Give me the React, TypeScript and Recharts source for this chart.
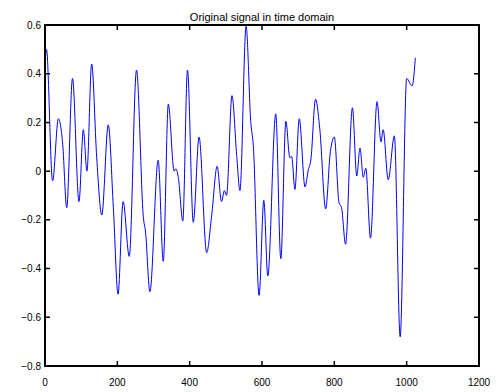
import { LineChart, Line, XAxis, YAxis } from "recharts";

// sample index (time) and amplitude
const sampleIdx = [
  0, 4, 21, 37, 49, 60, 76, 94, 106, 116, 129, 143, 157, 175, 189, 202, 216,
  233, 253, 272, 278, 290, 313, 327, 341, 357, 362, 369, 381, 394, 410, 426,
  447, 461, 476, 488, 496, 502, 517, 530, 539, 556, 569, 576, 592, 605, 616,
  638, 652, 666, 677, 682, 691, 703, 719, 728, 735, 748, 760, 776, 789, 800,
  813, 820, 831, 850, 862, 871, 880, 887, 900, 918, 929, 935, 949, 966, 982,
  1000, 1015, 1024,
];
const amplitude = [
  0.44, 0.5, -0.04, 0.215, 0.11, -0.15, 0.38, -0.125, 0.17, 0.0, 0.44, 0.055,
  -0.18, 0.19, -0.15, -0.505, -0.125, -0.35, 0.415, -0.19, -0.25, -0.495,
  0.045, -0.37, 0.275, 0.0, 0.01, -0.03, -0.205, 0.415, -0.21, 0.14, -0.335,
  -0.18, 0.02, -0.125, -0.08, -0.1, 0.31, 0.065, -0.08, 0.595, 0.2, 0.105,
  -0.51, -0.12, -0.43, 0.235, -0.36, 0.205, 0.055, 0.06, -0.075, 0.215,
  -0.065, 0.005, 0.045, 0.295, 0.17, -0.155, 0.08, 0.14, -0.13, -0.15, -0.3,
  0.26, -0.02, 0.095, -0.025, 0.012, -0.275, 0.285, 0.12, 0.17, -0.035,
  0.145, -0.68, 0.38, 0.35, 0.465,
];

const xTicks = [0, 200, 400, 600, 800, 1000, 1200];
const yTicks = [-0.8, -0.6, -0.4, -0.2, 0, 0.2, 0.4, 0.6];
const title = "Original signal in time domain";

const chartData = sampleIdx.map((n, i) => ({ n, v: amplitude[i] }));

const FONT = "'Liberation Sans', Arial, Helvetica, sans-serif";

// plot box in page pixels
const W = 503;
const H = 392;
const LEFT = 45;
const TOP = 25;
const RIGHT = 479;
const BOTTOM = 366;
const TICK = 5;

// matlab style minus sign
const fmtY = (v: number) => (v === 0 ? "0" : v.toFixed(1).replace("-", "\u2212"));

// bottom tick: inward marks on bottom and top edge + label
const XTick = (props: any) => {
  const { x, payload } = props;
  return (
    <g>
      <path d={`M${x},${BOTTOM}v${-TICK}M${x},${TOP}v${TICK}`} stroke="#000" strokeWidth={1.5} fill="none" />
      <text x={x} y={BOTTOM + 13} dy="0.71em" textAnchor="middle" fontSize={10} fontFamily={FONT} fill="#000">
        {payload.value}
      </text>
    </g>
  );
};

// left tick: inward marks on left and right edge + label
const YTick = (props: any) => {
  const { y, payload } = props;
  return (
    <g>
      <path d={`M${LEFT},${y}h${TICK}M${RIGHT},${y}h${-TICK}`} stroke="#000" strokeWidth={1.5} fill="none" />
      <text x={LEFT - 4} y={y} dy="0.355em" textAnchor="end" fontSize={10} fontFamily={FONT} fill="#000">
        {fmtY(payload.value)}
      </text>
    </g>
  );
};

export default function App() {
  return (
    <div
      style={{
        position: "fixed",
        left: 0,
        top: 0,
        width: W,
        height: H,
        background: "#fff",
        fontFamily: FONT,
      }}
    >
      <div
        style={{
          position: "absolute",
          left: LEFT,
          width: RIGHT - LEFT,
          top: 11,
          textAlign: "center",
          fontSize: 11,
          lineHeight: "13px",
          color: "#000",
        }}
      >
        {title}
      </div>
      <LineChart
        width={W}
        height={H}
        data={chartData}
        margin={{ top: TOP, right: W - RIGHT, bottom: H - BOTTOM - 20, left: 0 }}
      >
        <XAxis
          dataKey="n"
          type="number"
          domain={[0, 1200]}
          ticks={xTicks}
          interval={0}
          allowDataOverflow
          height={20}
          tickSize={0}
          tickMargin={0}
          axisLine={false}
          tickLine={false}
          tick={XTick}
        />
        <YAxis
          type="number"
          domain={[-0.8, 0.6]}
          ticks={yTicks}
          interval={0}
          allowDataOverflow
          width={LEFT}
          tickSize={0}
          tickMargin={0}
          axisLine={false}
          tickLine={false}
          tick={YTick}
        />
        <Line
          type="monotone"
          dataKey="v"
          stroke="#0000ff"
          strokeWidth={1}
          dot={false}
          isAnimationActive={false}
        />
      </LineChart>
      {/* axes box */}
      <div
        style={{
          position: "absolute",
          left: LEFT - 1,
          top: TOP - 1,
          width: RIGHT - LEFT + 2,
          height: BOTTOM - TOP + 2,
          border: "2px solid #000",
          boxSizing: "border-box",
          pointerEvents: "none",
        }}
      />
    </div>
  );
}
